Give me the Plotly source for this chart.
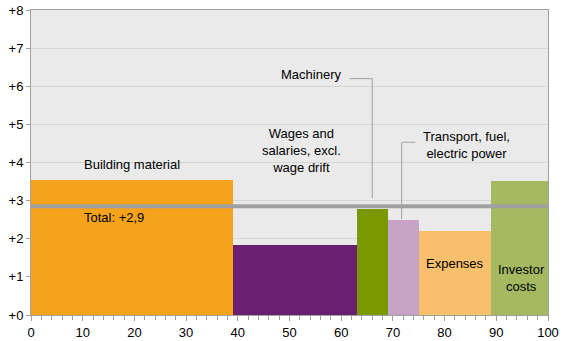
import numpy as np
import plotly.graph_objects as go

categories = ["Building material", "Wages and salaries, excl. wage drift", "Machinery",
              "Transport, fuel, electric power", "Expenses", "Investor costs"]
weights = [39, 24, 6, 6, 14, 11]
changes = [3.55, 1.84, 2.77, 2.48, 2.2, 3.52]
colors = ["#F5A31A", "#6A1F70", "#789A00", "#C7A3C7", "#F8BF6C", "#A4B960"]
total = 2.85
total_label = "Total: +2,9"
y_ticks = list(range(0, 9))
y_tick_text = ["+%d" % v for v in y_ticks]

w = np.array(weights, dtype=float)
left = np.concatenate([[0], np.cumsum(w)[:-1]])
centers = left + w / 2

FONT = "Liberation Sans, Arial, sans-serif"
fig = go.Figure()
fig.add_trace(go.Bar(x=centers, y=changes, width=w, marker=dict(color=colors, line=dict(width=0)),
                     showlegend=False, hoverinfo="skip"))

shapes = [
    dict(type="line", xref="x", yref="y", x0=0, x1=100, y0=total, y1=total,
         line=dict(color="#A0A0A0", width=4), layer="above"),
    # leader for Machinery
    dict(type="line", xref="x", yref="y", x0=61.6, x1=66, y0=6.2, y1=6.2, line=dict(color="#A0A0A0", width=1)),
    dict(type="line", xref="x", yref="y", x0=66, x1=66, y0=6.2, y1=3.07, line=dict(color="#A0A0A0", width=1)),
    # leader for Transport
    dict(type="line", xref="x", yref="y", x0=71.7, x1=74.3, y0=4.53, y1=4.53, line=dict(color="#A0A0A0", width=1)),
    dict(type="line", xref="x", yref="y", x0=71.7, x1=71.7, y0=4.53, y1=2.52, line=dict(color="#A0A0A0", width=1)),
]

ann = []
def A(x, y, text, xanchor="center"):
    ann.append(dict(x=x, y=y, xref="x", yref="y", text=text, showarrow=False, xanchor=xanchor,
                    font=dict(family=FONT, size=13, color="#000000"), align="center"))

A(9.8, 3.96, categories[0], "left")
A(9.8, 2.55, total_label, "left")
A(52.4, 4.31, "Wages and<br>salaries, excl.<br>wage drift")
A(54.2, 6.3, categories[2])
A(84.3, 4.46, "Transport, fuel,<br>electric power")
A(82.0, 1.34, categories[4])
A(94.9, 0.98, "Investor<br>costs")

fig.update_layout(
    width=565, height=341,
    margin=dict(l=31, r=17, t=10, b=26),
    paper_bgcolor="#FFFFFF", plot_bgcolor="#EAEAEA",
    bargap=0,
    shapes=shapes, annotations=ann,
    font=dict(family=FONT, size=13, color="#000000"),
    xaxis=dict(range=[0, 100], tickmode="array", tickvals=list(range(0, 101, 10)),
               ticks="outside", ticklen=5, tickcolor="#A0A0A0", showgrid=False,
               showline=True, linecolor="#A0A0A0", linewidth=1, mirror=True,
               minor=dict(tickvals=list(range(0, 101, 2)), ticks="outside", ticklen=4, tickcolor="#A0A0A0"),
               tickfont=dict(size=13), zeroline=False, fixedrange=True, automargin=False),
    yaxis=dict(range=[0, 8], tickvals=y_ticks, ticktext=y_tick_text, ticks="outside", ticklen=4,
               tickcolor="#A0A0A0", showgrid=True, gridcolor="#D6D6D6", gridwidth=1,
               showline=True, linecolor="#A0A0A0", linewidth=1, mirror=True,
               tickfont=dict(size=13), zeroline=False, fixedrange=True, automargin=False),
)
fig.write_html("out.html")
